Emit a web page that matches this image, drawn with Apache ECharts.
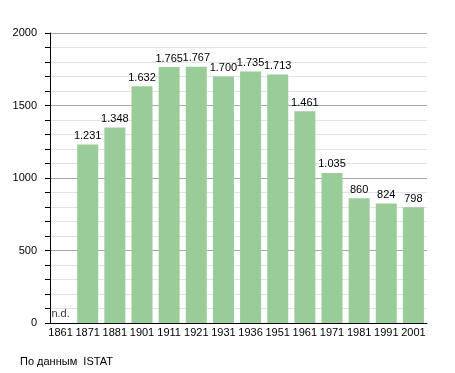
<!DOCTYPE html>
<html>
<head>
<meta charset="utf-8">
<script src="https://cdn.jsdelivr.net/npm/echarts@6/dist/echarts.min.js"></script>
<style>html,body{margin:0;padding:0;background:#fff}#c{width:455px;height:373px}</style>
</head>
<body>
<div id="c"></div>
<script>
const years = ['1861','1871','1881','1901','1911','1921','1931','1936','1951','1961','1971','1981','1991','2001'];
const population = [null,1231,1348,1632,1765,1767,1700,1735,1713,1461,1035,860,824,798];
const missingLabel = 'n.d.';
const yTicks = {min:0, max:2000, interval:500};
const source = 'По данным  ISTAT';

const FONT = 'Liberation Sans, Arial, sans-serif';
const fmt = v => {
  const s = String(Math.round(v));
  return s.length > 3 ? s.slice(0, s.length-3) + '.' + s.slice(s.length-3) : s;
};

const chart = echarts.init(document.getElementById('c'), null, {renderer:'canvas'});
chart.setOption({
  animation:false,
  backgroundColor:'#fff',
  textStyle:{fontFamily:FONT},
  title:{text:source, left:20, top:356, padding:0, textStyle:{fontSize:11, fontWeight:'normal', color:'#000', fontFamily:FONT}},
  grid:{left:47, right:28, top:33, bottom:50, containLabel:false},
  xAxis:{
    type:'category', data:years, boundaryGap:true,
    axisLine:{lineStyle:{color:'#000', width:1}},
    axisTick:{show:false},
    axisLabel:{color:'#000', fontSize:11, margin:4, interval:0, fontFamily:FONT},
    splitLine:{show:false}
  },
  yAxis:{
    type:'value', min:yTicks.min, max:yTicks.max, interval:yTicks.interval, offset:-3,
    axisLine:{show:true, lineStyle:{color:'#000', width:1}},
    axisTick:{show:true, length:5, lineStyle:{color:'#000'}},
    minorTick:{show:true, splitNumber:5, length:5, lineStyle:{color:'#000'}},
    axisLabel:{color:'#000', fontSize:11, margin:13, fontFamily:FONT, formatter:v => String(v)},
    splitLine:{show:true, lineStyle:{color:'#a8a8a8', width:1}},
    minorSplitLine:{show:true, lineStyle:{color:'#e2e2e2', width:1}}
  },
  series:[
    {
      type:'bar', data:population, barWidth:21,
      itemStyle:{color:'#99cc99'},
      label:{show:true, position:'top', distance:3, color:'#000', fontSize:11, fontFamily:FONT,
        formatter:p => p.value == null ? '' : fmt(p.value)}
    },
    {
      type:'scatter', symbolSize:0,
      data: years.map((y,i)=> population[i]==null ? [y,0] : null).filter(d=>d),
      label:{show:true, position:'top', distance:4, formatter:missingLabel, color:'#000', fontSize:11, fontFamily:FONT},
      silent:true
    }
  ]
});
</script>
</body>
</html>
